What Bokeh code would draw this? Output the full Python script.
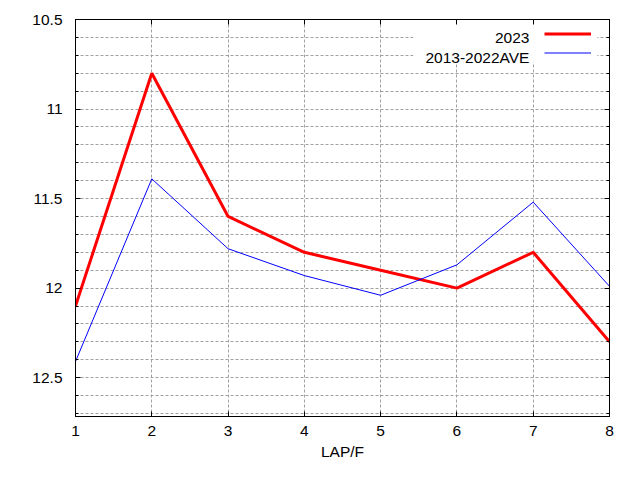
from bokeh.plotting import figure
from bokeh.models import (Range1d, FixedTicker, LinearAxis, Legend, LegendItem,
                          BoxAnnotation, Label, CustomJSTickFormatter)
from bokeh.core.properties import value
from bokeh.embed import file_html
from bokeh.resources import INLINE

# ---- data ----
laps = [1, 2, 3, 4, 5, 6, 7, 8]
y2023 = [12.10, 10.80, 11.60, 11.80, 11.90, 12.00, 11.80, 12.30]
yave = [12.41, 11.39, 11.78, 11.93, 12.04, 11.87, 11.52, 11.99]
series_names = ["2023", "2013-2022AVE"]
x_ticks = [1, 2, 3, 4, 5, 6, 7, 8]
y_ticks = [10.5, 11.0, 11.5, 12.0, 12.5]
y_tick_labels = ["10.5", "11", "11.5", "12", "12.5"]
y_minor = [round(10.5 + 0.1 * i, 1) for i in range(0, 23)]
y_minor = [v for v in y_minor if v not in y_ticks]

FONT = "Liberation Sans"
FS = "15.5px"

p = figure(width=624, height=464, output_backend="svg", toolbar_location=None,
           x_range=Range1d(1, 8), y_range=Range1d(12.717, 10.5),
           min_border_left=75, min_border_right=15, min_border_top=19,
           min_border_bottom=48)
p.background_fill_color = "white"
p.border_fill_color = "white"
p.outline_line_color = "black"
p.outline_line_width = 1
p.outline_line_alpha = 1

yt = FixedTicker(ticks=y_ticks, minor_ticks=y_minor)
xt = FixedTicker(ticks=x_ticks, minor_ticks=[])

for ax in p.yaxis:
    ax.ticker = yt
    ax.major_label_overrides = {t: l for t, l in zip(y_ticks, y_tick_labels)}
for ax in p.xaxis:
    ax.ticker = xt
    ax.axis_label = "LAP/F"

for ax in list(p.xaxis) + list(p.yaxis):
    ax.major_tick_in = 5
    ax.major_tick_out = 0
    ax.minor_tick_in = 3
    ax.minor_tick_out = 0
    ax.major_label_text_font = FONT
    ax.major_label_text_font_size = FS
    ax.major_label_text_color = "black"
    ax.axis_label_text_font = FONT
    ax.axis_label_text_font_size = FS
    ax.axis_label_text_font_style = "normal"
    ax.axis_label_text_color = "black"
    ax.axis_line_color = "black"
    ax.major_tick_line_color = "black"
    ax.minor_tick_line_color = "black"

p.xaxis.major_label_standoff = 9
p.xaxis.axis_label_standoff = 4
p.yaxis.major_label_standoff = 13

# mirrored axes (ticks only, no labels)
blank = CustomJSTickFormatter(code="return ''")
right = LinearAxis(ticker=yt, formatter=blank, major_label_text_font_size="1px",
                   major_label_standoff=0,
                   major_tick_in=5, major_tick_out=0, minor_tick_in=3, minor_tick_out=0,
                   axis_line_color="black")
top = LinearAxis(ticker=xt, formatter=blank, major_label_text_font_size="1px",
                 major_label_standoff=0,
                 major_tick_in=5, major_tick_out=0, minor_tick_in=0, minor_tick_out=0,
                 axis_line_color="black")
p.add_layout(right, "right")
p.add_layout(top, "above")

# grid
p.xgrid.ticker = xt
p.ygrid.ticker = yt
for g in (p.xgrid, p.ygrid):
    g.grid_line_color = "#a0a0a0"
    g.grid_line_dash = "3 2"
    g.grid_line_width = 1
p.ygrid.minor_grid_line_color = "#a0a0a0"
p.ygrid.minor_grid_line_dash = "3 2"
p.ygrid.minor_grid_line_width = 1

# white key box (grid hidden behind key)
box = BoxAnnotation(left=5.43, right=7.84, top=10.5, bottom=10.74,
                    fill_color="white", fill_alpha=1, line_color=None, level="underlay")
p.add_layout(box)

r1 = p.line(laps, y2023, line_color="#ff0000", line_width=3)
r2 = p.line(laps, yave, line_color="#0000ff", line_width=1)

legend = Legend(items=[LegendItem(label=value(""), renderers=[r1]),
                       LegendItem(label=value(""), renderers=[r2])],
                location=(469, 354.5), glyph_width=47, glyph_height=19,
                label_height=19, label_width=0, label_standoff=0,
                label_text_font_size="1px", spacing=0, padding=0, margin=0,
                background_fill_alpha=0, border_line_alpha=0)
p.add_layout(legend)

for name, yb in zip(series_names, [10.605, 10.71]):
    p.add_layout(Label(x=6.95, y=yb, text=name, text_align="right",
                       text_baseline="alphabetic", text_font=FONT,
                       text_font_size=FS, text_color="black"))

open("out.html", "w").write(file_html(p, INLINE))
